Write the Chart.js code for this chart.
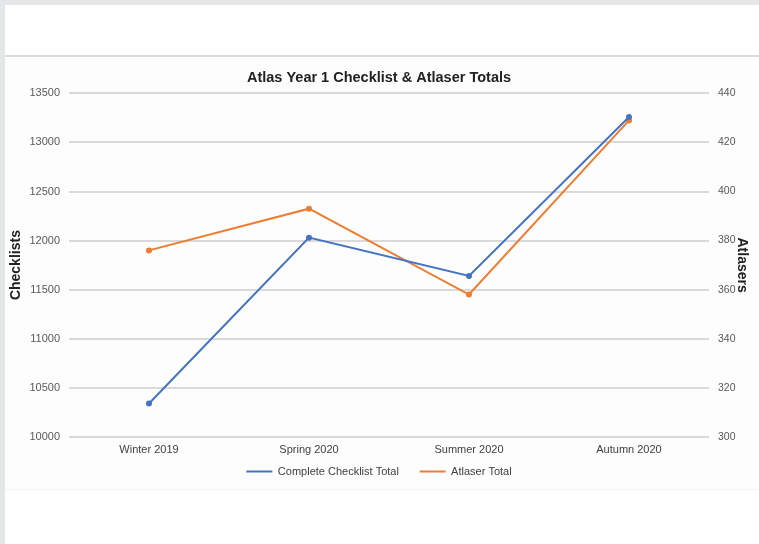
<!DOCTYPE html>
<html>
<head>
<meta charset="utf-8">
<script src="https://cdn.jsdelivr.net/npm/chart.js@4"></script>
<style>
  html, body { margin: 0; padding: 0; background: #ffffff; width: 759px; height: 544px; overflow: hidden; }
  #topbar { position: absolute; left: 0; top: 0; width: 759px; height: 5px; background: #e5e6e8; z-index: 3; }
  #leftbar { position: absolute; left: 0; top: 0; width: 5px; height: 544px; background: #e5e6e8; z-index: 3; }
  #sep { position: absolute; left: 5px; top: 55px; width: 754px; height: 2px; background: #dcdcdc; z-index: 3; }
  #sepb { position: absolute; left: 5px; top: 489px; width: 754px; height: 1px; background: #f3f3f3; z-index: 3; }
  #wrap { position: absolute; left: 5px; top: 57px; width: 754px; height: 432px; background: #fdfdfd; z-index: 1; }
  #c { position: absolute; left: 5px; top: 57px; z-index: 2; }
</style>
</head>
<body>
<div id="topbar"></div>
<div id="leftbar"></div>
<div id="sep"></div>
<div id="sepb"></div>
<div id="wrap"></div>
<canvas id="c" width="754" height="445"></canvas>
<script>
const categories = ["Winter 2019", "Spring 2020", "Summer 2020", "Autumn 2020"];
const checklistTotals = [10340, 12030, 11640, 13260];
const atlaserTotals = [376, 393, 358, 429];
const seriesNames = ["Complete Checklist Total", "Atlaser Total"];
const chartTitle = "Atlas Year 1 Checklist & Atlaser Totals";
const leftAxisTitle = "Checklists";
const rightAxisTitle = "Atlasers";

const FONT = "'Liberation Sans', 'DejaVu Sans', sans-serif";

new Chart(document.getElementById('c'), {
  type: 'line',
  data: {
    labels: categories,
    datasets: [
      {
        label: seriesNames[0],
        data: checklistTotals,
        yAxisID: 'y',
        borderColor: '#4472C4',
        backgroundColor: '#4472C4',
        borderWidth: 2,
        pointRadius: 2,
        pointHoverRadius: 2,
        tension: 0
      },
      {
        label: seriesNames[1],
        data: atlaserTotals,
        yAxisID: 'y1',
        borderColor: '#ED7D31',
        backgroundColor: '#ED7D31',
        borderWidth: 2,
        pointRadius: 2,
        pointHoverRadius: 2,
        tension: 0
      }
    ]
  },
  options: {
    responsive: false,
    animation: false,
    layout: { padding: { left: 0, right: 6, top: 0, bottom: 15 } },
    plugins: {
      title: {
        display: true,
        text: chartTitle,
        color: '#222',
        font: { family: FONT, size: 14.5, weight: 'bold' },
        padding: { top: 12, bottom: 7 }
      },
      legend: {
        position: 'bottom',
        labels: {
          color: '#404040',
          font: { family: FONT, size: 11 },
          boxWidth: 26,
          boxHeight: 2,
          padding: 2,
          generateLabels(chart) {
            const n = chart.data.datasets.length;
            return chart.data.datasets.map((ds, i) => ({
              text: ds.label + (i < n - 1 ? '\u2003\u2002\u2009' : ''),
              fillStyle: ds.borderColor,
              strokeStyle: ds.borderColor,
              lineWidth: 0,
              datasetIndex: i,
              fontColor: '#404040'
            }));
          }
        }
      },
      tooltip: { enabled: false }
    },
    scales: {
      x: {
        offset: true,
        grid: { display: false, drawTicks: false },
        border: { display: false },
        ticks: { color: '#404040', font: { family: FONT, size: 11 }, padding: 7, maxRotation: 0 }
      },
      y: {
        position: 'left',
        min: 10000, max: 13500,
        ticks: { stepSize: 500, color: '#595959', font: { family: FONT, size: 11 }, padding: 9,
                 callback: (v) => String(v) },
        grid: { color: '#d9d9d9', lineWidth: 2, drawTicks: false },
        border: { display: false },
        title: { display: true, text: leftAxisTitle, color: '#222', font: { family: FONT, size: 14, weight: 'bold' }, padding: { top: 3, bottom: 3 } },
        afterFit(scale) { scale.width = 64; }
      },
      y1: {
        position: 'right',
        min: 300, max: 440,
        ticks: { stepSize: 20, color: '#595959', font: { family: FONT, size: 10.5 }, padding: 9,
                 callback: (v) => String(v) },
        grid: { display: false, drawTicks: false },
        border: { display: false },
        title: { display: true, text: rightAxisTitle, color: '#222', font: { family: FONT, size: 14, weight: 'bold' }, padding: { top: 3, bottom: 3 } },
        afterFit(scale) { scale.width = 44; }
      }
    }
  }
});
</script>
</body>
</html>
